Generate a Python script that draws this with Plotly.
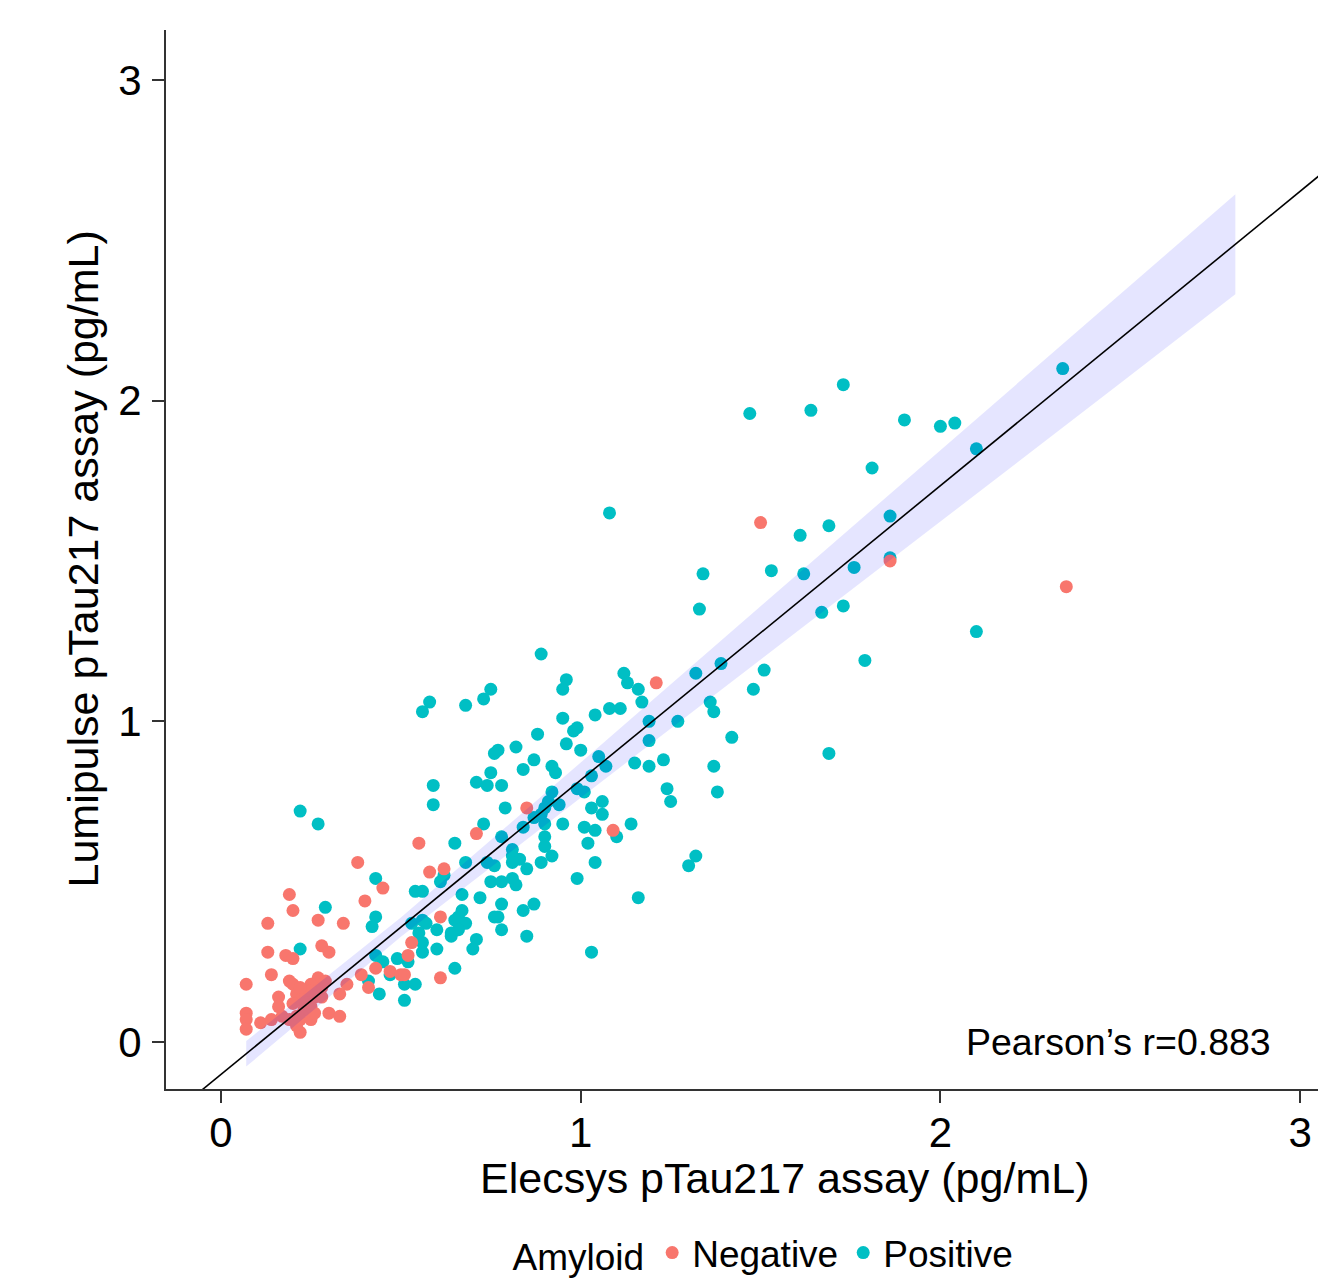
import plotly.graph_objects as go
import numpy as np

# ---- data ----
neg_x = [1.50,1.86,2.35,1.21,1.09,0.85,0.71,0.55,0.38,0.45,
         0.40,0.58,0.62,0.61,0.53,0.52,0.47,0.50,0.51,0.61,
         0.19,0.20,0.13,0.27,0.34,0.13,0.18,0.20,0.28,0.30,
         0.14,0.07,0.19,0.27,0.25,0.35,0.33,0.16,0.21,0.22,
         0.24,0.26,0.28,0.16,0.20,0.23,0.25,0.07,0.07,0.11,
         0.14,0.17,0.19,0.21,0.22,0.25,0.30,0.33,0.07,0.21,
         0.22,0.26,0.39,0.43,0.41,0.28,0.29,0.23,0.25,0.20,
         0.22]
neg_y = [1.62,1.50,1.42,1.12,0.66,0.73,0.65,0.62,0.56,0.48,
         0.44,0.53,0.54,0.39,0.31,0.27,0.22,0.21,0.21,0.20,
         0.46,0.41,0.37,0.38,0.37,0.28,0.27,0.26,0.30,0.28,
         0.21,0.18,0.19,0.20,0.18,0.18,0.15,0.14,0.15,0.13,
         0.13,0.14,0.14,0.11,0.12,0.10,0.11,0.09,0.07,0.06,
         0.07,0.08,0.07,0.08,0.07,0.07,0.09,0.08,0.04,0.05,
         0.03,0.09,0.21,0.23,0.17,0.17,0.19,0.16,0.16,0.18,
         0.17]

pos_x = [0.43,0.29,0.43,0.42,0.22,0.43,0.45,0.49,0.52,0.53,
         0.54,0.47,0.51,0.54,0.44,0.51,0.41,0.68,0.62,0.61,
         0.56,0.67,0.72,0.74,0.76,0.75,0.78,0.81,0.82,0.81,
         0.83,0.81,0.85,0.89,0.92,0.99,0.78,0.87,0.84,0.76,
         0.77,0.78,0.85,0.67,0.66,0.65,0.68,0.66,0.64,0.64,
         0.60,0.56,0.57,0.55,0.56,0.56,0.60,0.71,0.70,0.65,
         0.89,0.96,0.95,0.58,0.56,0.68,0.75,0.73,0.95,0.98,
         0.99,0.88,0.96,0.82,0.76,0.77,0.87,0.84,0.92,0.93,
         0.75,0.59,0.71,0.74,0.78,0.59,0.79,0.92,0.91,0.90,
         0.89,0.87,0.94,0.99,0.90,0.95,0.73,0.84,0.78,0.90,
         0.90,0.65,0.81,1.12,1.13,1.16,1.17,1.08,1.11,1.04,
         1.00,1.32,1.39,1.36,1.37,1.19,1.27,1.19,1.48,1.42,
         1.05,1.07,1.03,1.15,1.19,1.23,1.37,1.01,1.24,1.25,
         1.38,1.06,1.03,1.06,1.01,1.04,1.14,1.10,1.02,1.04,
         1.32,1.30,1.16,1.03,1.47,1.64,1.73,1.90,2.00,2.04,
         1.81,1.08,1.61,1.69,1.86,1.86,1.76,1.62,1.53,1.34,
         1.33,1.67,1.73,2.34,2.10,2.10,1.79,1.51,1.69,0.22,
         0.27]
pos_y = [0.51,0.42,0.39,0.36,0.29,0.27,0.25,0.26,0.25,0.37,
         0.47,0.21,0.18,0.18,0.15,0.13,0.19,0.56,0.52,0.50,
         0.47,0.46,0.45,0.56,0.55,0.50,0.50,0.51,0.49,0.58,
         0.57,0.56,0.54,0.56,0.58,0.51,0.43,0.43,0.41,0.39,
         0.39,0.35,0.33,0.41,0.39,0.38,0.37,0.35,0.34,0.33,
         0.35,0.38,0.37,0.34,0.31,0.28,0.29,0.32,0.29,0.23,
         1.21,1.13,1.10,1.06,1.03,1.05,1.10,1.07,1.01,0.97,
         0.98,0.96,0.93,0.92,0.90,0.91,0.88,0.85,0.86,0.84,
         0.84,0.80,0.81,0.80,0.80,0.74,0.73,0.78,0.75,0.73,
         0.71,0.70,0.74,0.79,0.68,0.68,0.68,0.67,0.64,0.64,
         0.61,0.62,0.60,1.15,1.12,1.10,1.06,1.04,1.04,1.02,
         0.91,1.15,1.18,1.06,1.03,1.00,1.00,0.94,1.10,0.95,
         0.89,0.86,0.83,0.87,0.86,0.88,0.86,0.78,0.79,0.75,
         0.78,0.75,0.73,0.71,0.67,0.66,0.68,0.64,0.62,0.56,
         0.58,0.55,0.45,0.28,1.96,1.97,2.05,1.94,1.92,1.93,
         1.79,1.65,1.58,1.61,1.64,1.51,1.48,1.46,1.47,1.46,
         1.35,1.34,1.36,2.10,1.85,1.28,1.19,1.16,0.90,0.72,
         0.68]

fit_intercept = -0.101
fit_slope = 0.918
band_x = [0.07, 0.5, 1.0, 1.5, 2.0, 2.5, 2.82]
band_halfwidth = [0.04, 0.03, 0.055, 0.083, 0.112, 0.14, 0.156]
line_x = [-0.3, 3.3]

tick_vals = [0, 1, 2, 3]
tick_text = ["0", "1", "2", "3"]
pearson_label = "Pearson\u2019s r=0.883"

RED = "#F8766D"
TEAL = "#00BFC4"
FONT = "Liberation Sans, Arial, sans-serif"

fig = go.Figure()

fig.add_trace(go.Scatter(x=pos_x, y=pos_y, mode="markers", name="Positive",
                         legendrank=2,
                         marker=dict(color=TEAL, size=13, line=dict(width=0))))
fig.add_trace(go.Scatter(x=neg_x, y=neg_y, mode="markers", name="Negative",
                         legendrank=1,
                         marker=dict(color=RED, size=13, line=dict(width=0))))

bx = np.array(band_x)
bh = np.array(band_halfwidth)
centre = fit_intercept + fit_slope * bx
fig.add_trace(go.Scatter(
    x=np.concatenate([bx, bx[::-1]]),
    y=np.concatenate([centre + bh, (centre - bh)[::-1]]),
    fill="toself", fillcolor="rgba(0,0,255,0.1)", line=dict(width=0),
    mode="lines", showlegend=False, hoverinfo="skip"))

lx = np.array(line_x)
fig.add_trace(go.Scatter(x=lx, y=fit_intercept + fit_slope * lx, mode="lines",
                         line=dict(color="black", width=1.6),
                         showlegend=False, hoverinfo="skip"))

axis_common = dict(showgrid=False, zeroline=False, showline=True,
                   linecolor="#333333", linewidth=2, ticks="outside",
                   ticklen=12, tickwidth=2, tickcolor="#333333",
                   tickfont=dict(family=FONT, size=42, color="black"),
                   tickvals=tick_vals, ticktext=tick_text, automargin=False)

# page body adds an 8px offset; the figure is sized to compensate
fig.update_layout(
    width=1318, height=1273,
    margin=dict(l=158, r=0, t=22, b=192, autoexpand=False),
    paper_bgcolor="white", plot_bgcolor="white",
    font=dict(family=FONT, color="black"),
    xaxis=dict(range=[-0.153, 3.072], ticklabelstandoff=-6, **axis_common),
    yaxis=dict(range=[-0.1466, 3.156], ticklabelstandoff=2, **axis_common),
    legend=dict(orientation="h", x=0.516, xanchor="center",
                yref="container", y=0.022, yanchor="middle",
                title=dict(text="Amyloid", side="left", font=dict(size=37)),
                font=dict(family=FONT, size=37), itemwidth=30,
                bgcolor="rgba(0,0,0,0)"),
    annotations=[
        dict(text="Elecsys pTau217 assay (pg/mL)", xref="paper", yref="paper",
             x=0.533, y=-0.0845, xanchor="center", yanchor="middle",
             showarrow=False, font=dict(size=43, family=FONT)),
        dict(text="Lumipulse pTau217 assay (pg/mL)", xref="paper", yref="paper",
             x=-0.0724, y=0.5, xanchor="center", yanchor="middle",
             textangle=-90, showarrow=False, font=dict(size=43, family=FONT)),
        dict(text=pearson_label, xref="paper", yref="y",
             x=0.954, y=0.0, xanchor="right", yanchor="middle",
             showarrow=False, font=dict(size=37.5, family=FONT)),
    ],
)

fig.write_html("out.html")
